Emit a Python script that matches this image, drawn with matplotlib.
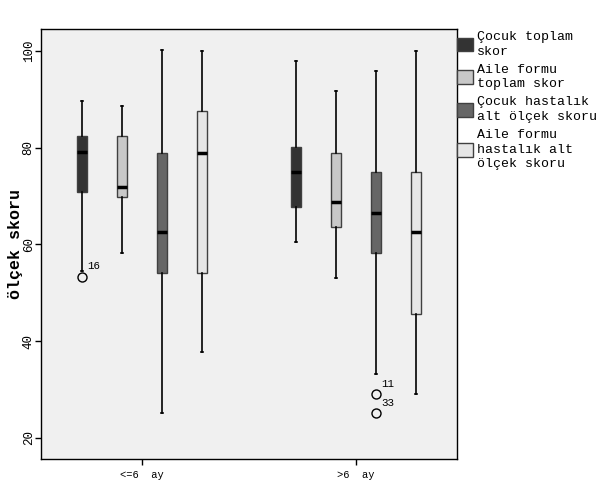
import numpy as np
import matplotlib
matplotlib.use('Agg')
import matplotlib.pyplot as plt

# Groups and series
groups = ['<=6  ay', '>6  ay']
series = ['Çocuk toplam\nskor', 'Aile formu\ntoplam skor',
          'Çocuk hastalık\nalt ölçek skoru', 'Aile formu\nhastalık alt\nölçek skoru']
colors = ['#333333', '#c8c8c8', '#666666', '#e6e6e6']

# box stats per group, per series: (whislo, q1, med, q3, whishi)
stats_le6 = [(54.5, 70.8, 79.2, 82.4, 89.7),
             (58.3, 69.7, 71.9, 82.4, 88.6),
             (25.1, 54.0, 62.6, 79.0, 100.2),
             (37.7, 54.0, 79.0, 87.6, 100.0)]
stats_gt6 = [(60.5, 67.7, 75.0, 80.1, 98.0),
             (53.0, 63.5, 68.8, 79.0, 91.7),
             (33.2, 58.3, 66.5, 75.0, 95.8),
             (29.1, 45.7, 62.5, 75.0, 100.0)]
# outliers: (group index, series index, value, case label)
outliers = [(0, 0, 53.3, '16'), (1, 2, 29.0, '11'), (1, 2, 25.1, '33')]

offsets = [-0.28, -0.093, 0.093, 0.28]
mono = 'Liberation Mono'

fig = plt.figure(figsize=(6.07, 4.91), dpi=100)
ax = fig.add_axes([0.0675, 0.065, 0.6855, 0.876])
ax.set_facecolor('#f0f0f0')

for g, gstats in enumerate([stats_le6, stats_gt6]):
  for s, (lo, q1, med, q3, hi) in enumerate(gstats):
    fliers = [o[2] for o in outliers if o[0] == g and o[1] == s]
    st = dict(whislo=lo, q1=q1, med=med, q3=q3, whishi=hi, fliers=fliers)
    ax.bxp([st], positions=[g + offsets[s]], widths=0.05, capwidths=0.008,
           patch_artist=True,
           boxprops=dict(facecolor=colors[s], edgecolor='#404040', linewidth=1),
           medianprops=dict(color='black', linewidth=2.5),
           whiskerprops=dict(color='black', linewidth=1.2),
           capprops=dict(color='black', linewidth=1.2),
           flierprops=dict(marker='o', markerfacecolor='none',
                           markeredgecolor='black', markersize=6.5,
                           markeredgewidth=1))

for (g, s, v, lab) in outliers:
  ax.annotate(lab, (g + offsets[s], v), xytext=(4, 4), textcoords='offset points',
              fontsize=7.8, family=mono, ha='left', va='bottom')

ax.set_xlim(-0.472, 1.472)
ax.set_ylim(15.6, 104.55)
ax.set_xticks([0, 1])
ax.set_xticklabels(groups, family=mono, fontsize=7.5)
ax.set_yticks([20, 40, 60, 80, 100])
ax.set_yticklabels(['20', '40', '60', '80', '100'], family=mono, fontsize=9,
                   rotation=90, va='center')
ax.tick_params(axis='both', length=4, width=1, color='black')
ax.tick_params(axis='y', pad=0.5)
ax.tick_params(axis='x', pad=3.5)
ax.set_ylabel('ölçek skoru', family=mono, fontsize=12, fontweight='bold', labelpad=0)
for sp in ax.spines.values():
  sp.set_linewidth(1)

handles = [matplotlib.patches.Patch(facecolor=c, edgecolor='#404040') for c in colors]
leg = ax.legend(handles, series, loc='upper left', bbox_to_anchor=(1.0, 0.995),
                frameon=False, prop=dict(family=mono, size=9.5),
                handlelength=1.2, handleheight=1.2, handletextpad=0.3,
                borderaxespad=0, borderpad=0, labelspacing=0.45)
for t in leg.get_texts():
  t.set_linespacing(1.3)

fig.savefig('out.png', dpi=100)
